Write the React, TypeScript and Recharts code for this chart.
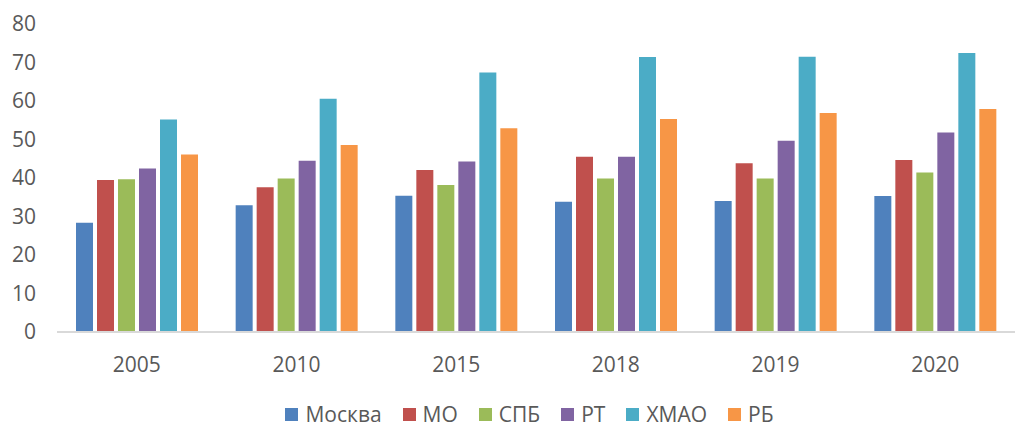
import { BarChart, Bar, XAxis, YAxis, Legend } from "recharts";

const years = ["2005", "2010", "2015", "2018", "2019", "2020"];
const moskva = [28.4, 32.9, 35.4, 33.8, 34.0, 35.3];
const mo = [39.5, 37.6, 42.1, 45.5, 43.8, 44.7];
const spb = [39.7, 39.9, 38.2, 39.9, 39.9, 41.4];
const rt = [42.5, 44.5, 44.3, 45.5, 49.7, 51.8];
const hmao = [55.2, 60.6, 67.4, 71.4, 71.5, 72.5];
const rb = [46.1, 48.6, 52.9, 55.3, 56.9, 57.9];
const yTicks = [0, 10, 20, 30, 40, 50, 60, 70, 80];

const series = [
  { key: "Москва", values: moskva, color: "#4F81BD" },
  { key: "МО", values: mo, color: "#C0504D" },
  { key: "СПБ", values: spb, color: "#9BBB59" },
  { key: "РТ", values: rt, color: "#8064A2" },
  { key: "ХМАО", values: hmao, color: "#4BACC6" },
  { key: "РБ", values: rb, color: "#F79646" },
];

const data = years.map((year, i) => {
  const row: Record<string, string | number> = { year };
  series.forEach((s) => (row[s.key] = s.values[i]));
  return row;
});

const font = "'Open Sans', sans-serif";

// legend drawn like Excel: small squares, grey text
const ExcelLegend = () => (
  <div
    style={{
      display: "flex",
      justifyContent: "center",
      gap: 21,
      fontFamily: font,
      fontSize: 21,
      lineHeight: 1,
      color: "#595959",
      height: 30,
      alignItems: "center",
      transform: "translate(22px, 7px)",
    }}
  >
    {series.map((s) => (
      <div key={s.key} style={{ display: "flex", alignItems: "center", gap: 7 }}>
        <span style={{ width: 13, height: 13, background: s.color, display: "inline-block" }} />
        <span>{s.key}</span>
      </div>
    ))}
  </div>
);

export default function App() {
  return (
    <div style={{ position: "absolute", left: 0, top: 0, background: "#fff" }}>
      <BarChart
        width={1016}
        height={426}
        data={data}
        margin={{ top: 24, right: 1, left: 0, bottom: 4 }}
        barSize={17}
        barGap={4}
      >
        <XAxis
          dataKey="year"
          tickLine={false}
          axisLine={{ stroke: "#D9D9D9", strokeWidth: 2 }}
          tick={{ fill: "#595959", fontSize: 21, fontFamily: font }}
          tickMargin={19}
          height={60}
        />
        <YAxis
          domain={[0, 80]}
          ticks={yTicks}
          axisLine={false}
          tickLine={false}
          width={57}
          tickMargin={15}
          tick={{ fill: "#595959", fontSize: 21, fontFamily: font }}
        />
        <Legend verticalAlign="bottom" content={<ExcelLegend />} />
        {series.map((s) => (
          <Bar key={s.key} dataKey={s.key} fill={s.color} isAnimationActive={false} />
        ))}
      </BarChart>
    </div>
  );
}
